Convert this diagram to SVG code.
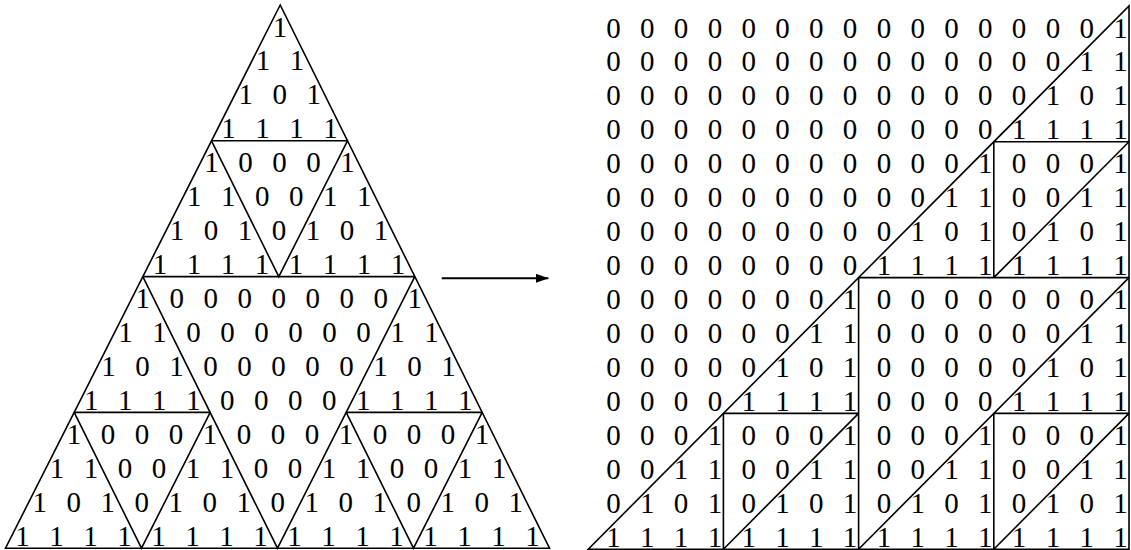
<svg xmlns="http://www.w3.org/2000/svg" width="1131" height="550" viewBox="0 0 1131 550">
<defs>
<style>
.d{font-family:"Liberation Serif","Times New Roman",serif;font-size:29px;fill:#000;text-anchor:middle}
.ln{fill:none;stroke:#000;stroke-width:1.6;stroke-linejoin:miter}
</style>
<marker id="ah" viewBox="0 0 13 9" refX="12.5" refY="4.5" markerWidth="13" markerHeight="9" markerUnits="userSpaceOnUse" orient="auto">
<path d="M0,0 L13,4.5 L0,9 Z" fill="#000"/>
</marker>
</defs>
<rect width="1131" height="550" fill="#fff"/>

<g id="pascal-triangle">
<g id="triangle-lines" class="ln">
<path d="M280.2,5 L5.5,548.2 L549.5,548.2 Z"/>
<path d="M211.5,140.8 L347.5,140.8 M211.5,140.8 L278.8,276.6 L347.5,140.8"/>
<path d="M142.8,276.6 L414.8,276.6 M142.8,276.6 L277.5,548.2 L414.8,276.6"/>
<path d="M74.2,412.4 L210.2,412.4 M74.2,412.4 L141.5,548.2 L210.2,412.4"/>
<path d="M346.2,412.4 L482.2,412.4 M346.2,412.4 L413.5,548.2 L482.2,412.4"/>
</g>
<g id="triangle-digits" class="d">
<text x="280.1" y="36.5">1</text>
<text x="262.9 296.9" y="70.45">11</text>
<text x="245.8 279.8 313.8" y="104.4">101</text>
<text x="228.6 262.6 296.6 330.6" y="138.35">1111</text>
<text x="211.4 245.4 279.4 313.4 347.4" y="172.3">10001</text>
<text x="194.3 228.3 262.3 296.3 330.3 364.3" y="206.25">110011</text>
<text x="177.1 211.1 245.1 279.1 313.1 347.1 381.1" y="240.2">1010101</text>
<text x="159.9 193.9 227.9 261.9 295.9 329.9 363.9 397.9" y="274.15">11111111</text>
<text x="142.8 176.8 210.8 244.8 278.8 312.8 346.8 380.8 414.8" y="308.1">100000001</text>
<text x="125.6 159.6 193.6 227.6 261.6 295.6 329.6 363.6 397.6 431.6" y="342.05">1100000011</text>
<text x="108.4 142.4 176.4 210.4 244.4 278.4 312.4 346.4 380.4 414.4 448.4" y="376">10100000101</text>
<text x="91.2 125.2 159.2 193.2 227.2 261.2 295.2 329.2 363.2 397.2 431.2 465.2" y="409.95">111100001111</text>
<text x="74.1 108.1 142.1 176.1 210.1 244.1 278.1 312.1 346.1 380.1 414.1 448.1 482.1" y="443.9">1000100010001</text>
<text x="56.9 90.9 124.9 158.9 192.9 226.9 260.9 294.9 328.9 362.9 396.9 430.9 464.9 498.9" y="477.85">11001100110011</text>
<text x="39.7 73.7 107.7 141.7 175.7 209.7 243.7 277.7 311.7 345.7 379.7 413.7 447.7 481.7 515.7" y="511.8">101010101010101</text>
<text x="22.6 56.6 90.6 124.6 158.6 192.6 226.6 260.6 294.6 328.6 362.6 396.6 430.6 464.6 498.6 532.6" y="545.75">1111111111111111</text>
</g>
</g>

<g id="matrix">
<g id="matrix-lines" class="ln">
<path d="M588.2,549.2 L1129,6 L1129,549.2 Z"/>
<path d="M858.6,277.6 L1129,277.6 M993.8,141.8 L1129,141.8 M993.8,141.8 L993.8,277.6 M993.8,277.6 L1129,141.8"/>
<path d="M858.6,277.6 L858.6,549.2 M858.6,549.2 L1129,277.6"/>
<path d="M993.8,413.4 L1129,413.4 M993.8,413.4 L993.8,549.2 M993.8,549.2 L1129,413.4"/>
<path d="M723.4,413.4 L858.6,413.4 M723.4,413.4 L723.4,549.2 M723.4,549.2 L858.6,413.4"/>
</g>
<g id="matrix-digits" class="d">
<text x="613.5 647.3 681.1 714.9 748.7 782.5 816.3 850.1 883.9 917.7 951.5 985.3 1019.1 1052.9 1086.7 1120.5" y="37.5">0000000000000001</text>
<text x="613.5 647.3 681.1 714.9 748.7 782.5 816.3 850.1 883.9 917.7 951.5 985.3 1019.1 1052.9 1086.7 1120.5" y="71.45">0000000000000011</text>
<text x="613.5 647.3 681.1 714.9 748.7 782.5 816.3 850.1 883.9 917.7 951.5 985.3 1019.1 1052.9 1086.7 1120.5" y="105.4">0000000000000101</text>
<text x="613.5 647.3 681.1 714.9 748.7 782.5 816.3 850.1 883.9 917.7 951.5 985.3 1019.1 1052.9 1086.7 1120.5" y="139.35">0000000000001111</text>
<text x="613.5 647.3 681.1 714.9 748.7 782.5 816.3 850.1 883.9 917.7 951.5 985.3 1019.1 1052.9 1086.7 1120.5" y="173.3">0000000000010001</text>
<text x="613.5 647.3 681.1 714.9 748.7 782.5 816.3 850.1 883.9 917.7 951.5 985.3 1019.1 1052.9 1086.7 1120.5" y="207.25">0000000000110011</text>
<text x="613.5 647.3 681.1 714.9 748.7 782.5 816.3 850.1 883.9 917.7 951.5 985.3 1019.1 1052.9 1086.7 1120.5" y="241.2">0000000001010101</text>
<text x="613.5 647.3 681.1 714.9 748.7 782.5 816.3 850.1 883.9 917.7 951.5 985.3 1019.1 1052.9 1086.7 1120.5" y="275.15">0000000011111111</text>
<text x="613.5 647.3 681.1 714.9 748.7 782.5 816.3 850.1 883.9 917.7 951.5 985.3 1019.1 1052.9 1086.7 1120.5" y="309.1">0000000100000001</text>
<text x="613.5 647.3 681.1 714.9 748.7 782.5 816.3 850.1 883.9 917.7 951.5 985.3 1019.1 1052.9 1086.7 1120.5" y="343.05">0000001100000011</text>
<text x="613.5 647.3 681.1 714.9 748.7 782.5 816.3 850.1 883.9 917.7 951.5 985.3 1019.1 1052.9 1086.7 1120.5" y="377">0000010100000101</text>
<text x="613.5 647.3 681.1 714.9 748.7 782.5 816.3 850.1 883.9 917.7 951.5 985.3 1019.1 1052.9 1086.7 1120.5" y="410.95">0000111100001111</text>
<text x="613.5 647.3 681.1 714.9 748.7 782.5 816.3 850.1 883.9 917.7 951.5 985.3 1019.1 1052.9 1086.7 1120.5" y="444.9">0001000100010001</text>
<text x="613.5 647.3 681.1 714.9 748.7 782.5 816.3 850.1 883.9 917.7 951.5 985.3 1019.1 1052.9 1086.7 1120.5" y="478.85">0011001100110011</text>
<text x="613.5 647.3 681.1 714.9 748.7 782.5 816.3 850.1 883.9 917.7 951.5 985.3 1019.1 1052.9 1086.7 1120.5" y="512.8">0101010101010101</text>
<text x="613.5 647.3 681.1 714.9 748.7 782.5 816.3 850.1 883.9 917.7 951.5 985.3 1019.1 1052.9 1086.7 1120.5" y="546.75">1111111111111111</text>
</g>
</g>

<g id="connectors">
<line x1="441.7" y1="278.3" x2="548.3" y2="278.3" stroke="#000" stroke-width="2" marker-end="url(#ah)"/>
</g>
</svg>
